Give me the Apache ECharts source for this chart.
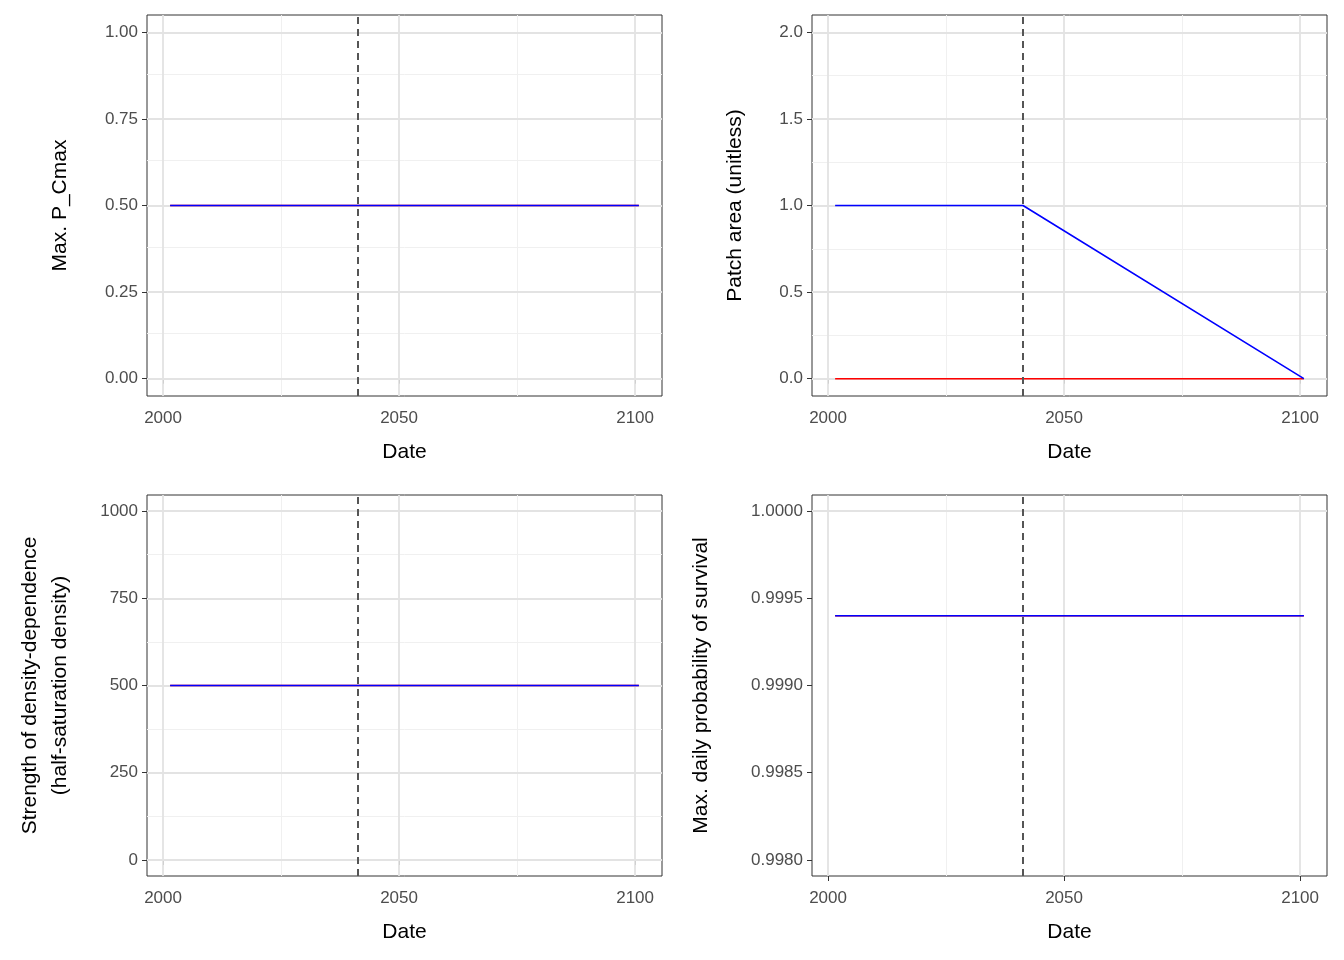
<!DOCTYPE html><html><head><meta charset="utf-8">
<script src="https://cdn.jsdelivr.net/npm/echarts@6/dist/echarts.min.js"></script>
<style>body{margin:0}#c{width:1344px;height:960px}</style></head><body><div id="c"></div>
<script>
const dates=[2001.5,2041.3,2100.8];
const pcmaxBlue=[0.5,0.5,0.5], pcmaxRed=[0.5,0.5,0.5];
const areaBlue=[1,1,0], areaRed=[0,0,0];
const ddBlue=[500,500,500], ddRed=[500,500,500];
const survBlue=[0.9994,0.9994,0.9994], survRed=[0.9994,0.9994,0.9994];
const interventionYear=2041.3;
const xTicks=[2000,2050,2100], xMinor=[2025,2075];
const panels=[
 {name:'Max. P_Cmax',blue:pcmaxBlue,red:pcmaxRed,yMin:-0.05,yMax:1.05,ticks:[0,0.25,0.5,0.75,1],minor:[0.125,0.375,0.625,0.875],fmt:v=>v.toFixed(2),grid:{left:147,top:15},gap:72},
 {name:'Patch area (unitless)',blue:areaBlue,red:areaRed,yMin:-0.1,yMax:2.1,ticks:[0,0.5,1,1.5,2],minor:[0.25,0.75,1.25,1.75],fmt:v=>v.toFixed(1),grid:{left:812,top:15},gap:62},
 {name:'Strength of density-dependence\n(half-saturation density)',blue:ddBlue,red:ddRed,yMin:-46,yMax:1046,ticks:[0,250,500,750,1000],minor:[125,375,625,875],fmt:v=>String(v),grid:{left:147,top:495},gap:72},
 {name:'Max. daily probability of survival',blue:survBlue,red:survRed,yMin:0.997908,yMax:1.000092,ticks:[0.998,0.9985,0.999,0.9995,1],minor:[0.99825,0.99875,0.99925,0.99975],fmt:v=>v.toFixed(4),grid:{left:812,top:495},gap:96}
];
const grids=[],xAxes=[],yAxes=[],series=[];
panels.forEach((p,i)=>{
 grids.push({left:p.grid.left,top:p.grid.top,width:515,height:381,show:true,borderColor:'#333',borderWidth:1,backgroundColor:'#fff'});
 xAxes.push({gridIndex:i,type:'value',min:1996.6,max:2105.7,name:'Date',nameLocation:'middle',nameGap:46,
  nameTextStyle:{color:'#000',fontSize:21,fontFamily:'Liberation Sans'},
  axisLine:{show:false},splitLine:{show:false},
  axisTick:{show:true,customValues:xTicks,length:5,lineStyle:{color:'#333'}},
  axisLabel:{customValues:xTicks,formatter:v=>String(v),color:'#4d4d4d',fontSize:17,fontFamily:'Liberation Sans',margin:14}});
 yAxes.push({gridIndex:i,type:'value',min:p.yMin,max:p.yMax,name:p.name,nameLocation:'middle',nameGap:p.gap,
  nameTextStyle:{color:'#000',fontSize:21,fontFamily:'Liberation Sans',lineHeight:30},
  axisLine:{show:false},splitLine:{show:false},
  axisTick:{show:true,customValues:p.ticks,length:5,lineStyle:{color:'#333'}},
  axisLabel:{customValues:p.ticks,formatter:p.fmt,color:'#4d4d4d',fontSize:17,fontFamily:'Liberation Sans',margin:9}});
 const gl=[];
 xMinor.forEach(v=>gl.push({xAxis:v,lineStyle:{color:'#f0f0f0',width:1,type:'solid'}}));
 p.minor.forEach(v=>gl.push({yAxis:v,lineStyle:{color:'#f0f0f0',width:1,type:'solid'}}));
 xTicks.forEach(v=>gl.push({xAxis:v,lineStyle:{color:'#e3e3e3',width:1.8,type:'solid'}}));
 p.ticks.forEach(v=>gl.push({yAxis:v,lineStyle:{color:'#e3e3e3',width:1.8,type:'solid'}}));
 series.push({type:'line',xAxisIndex:i,yAxisIndex:i,data:[],silent:true,z:1,zlevel:0,
  markLine:{symbol:'none',silent:true,label:{show:false},animation:false,z:1,data:gl}});
 series.push({type:'line',xAxisIndex:i,yAxisIndex:i,data:[],silent:true,z:5,
  markLine:{symbol:'none',silent:true,label:{show:false},animation:false,z:5,data:[{xAxis:interventionYear,lineStyle:{color:'#555',width:2,type:[7,5]}}]}});
 series.push({type:'line',xAxisIndex:i,yAxisIndex:i,data:dates.map((d,k)=>[d,p.red[k]]),showSymbol:false,lineStyle:{color:'#ff0000',width:1.6},z:3});
 series.push({type:'line',xAxisIndex:i,yAxisIndex:i,data:dates.map((d,k)=>[d,p.blue[k]]),showSymbol:false,lineStyle:{color:'#0000ff',width:1.6},z:4});
});
echarts.init(document.getElementById('c')).setOption({animation:false,backgroundColor:'#fff',grid:grids,xAxis:xAxes,yAxis:yAxes,series});
</script></body></html>
